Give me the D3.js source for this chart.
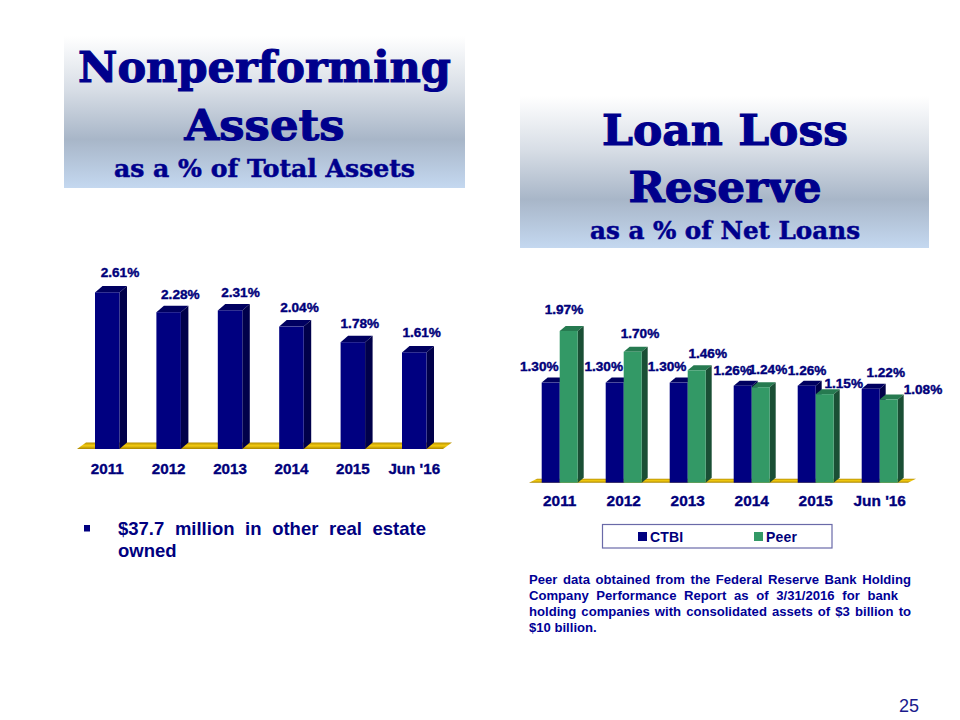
<!DOCTYPE html>
<html><head><meta charset="utf-8">
<script src="https://cdn.jsdelivr.net/npm/d3@7"></script>
<style>html,body{margin:0;padding:0;background:#fff}svg{display:block}</style>
</head><body><svg id="c" width="960" height="720"></svg>
<script>
const categories = ["2011","2012","2013","2014","2015","Jun '16"];
const npaValues = [2.61,2.28,2.31,2.04,1.78,1.61];
const ctbiValues = [1.30,1.30,1.30,1.26,1.26,1.22];
const peerValues = [1.97,1.70,1.46,1.24,1.15,1.08];
const seriesNames = ["CTBI","Peer"];
const leftTitle = ["Nonperforming","Assets","as a % of Total Assets"];
const rightTitle = ["Loan Loss","Reserve","as a % of Net Loans"];
const bulletLines = ["$37.7 million in other real estate","owned"];
const noteLines = ["Peer data obtained from the Federal Reserve Bank Holding","Company Performance Report as of 3/31/2016 for bank","holding companies with consolidated assets of $3 billion to","$10 billion."];
const pageNumber = "25";

const NAVY="#000080", INK="#00007a", SANS="'Liberation Sans',Arial,sans-serif", SERIF="'DejaVu Serif',serif";
const svg=d3.select("#c"), defs=svg.append("defs");
const pal={CTBI:{front:"#000080",side:"#00004a",top:"#000060"},Peer:{front:"#339966",side:"#1a4f35",top:"#267a50"}};

const pg=defs.append("linearGradient").attr("id","panel").attr("x1",0).attr("x2",0).attr("y1",0).attr("y2",1);
[[0,"#ffffff"],[.35,"#d8dee6"],[.68,"#a8b6c8"],[1,"#c4d8f0"]].forEach(s=>pg.append("stop").attr("offset",s[0]).attr("stop-color",s[1]));
const fg=defs.append("linearGradient").attr("id","floor").attr("x1",0).attr("x2",0).attr("y1",0).attr("y2",1);
[[0,"#b89000"],[.5,"#f4cc10"],[1,"#a88400"]].forEach(s=>fg.append("stop").attr("offset",s[0]).attr("stop-color",s[1]));

function panel(x,y,w,h,lines,cx,bases,sizes,widths){
  svg.append("rect").attr("x",x).attr("y",y).attr("width",w).attr("height",h).attr("fill","url(#panel)");
  svg.append("g").selectAll("text").data(lines).join("text")
    .attr("x",cx).attr("y",(d,i)=>bases[i]).attr("text-anchor","middle")
    .attr("font-family",SERIF).attr("font-weight","bold").attr("font-size",(d,i)=>sizes[i])
    .attr("fill","#00008c").attr("stroke","#00008c").attr("stroke-width",(d,i)=>i<2?1.1:.5)
    .attr("textLength",(d,i)=>widths[i]).attr("lengthAdjust","spacingAndGlyphs").text(d=>d);
}
panel(64,36,401,152,leftTitle,264.5,[82,140,177],[43,43,24],[373,160,301]);
panel(520,96,409,152,rightTitle,725,[145,202,239],[43,43,24],[246,193,270]);

function floor(xl,xr,base,dx,dy){
  const p=d3.path();p.moveTo(xl,base);p.lineTo(xl+dx,base-dy);p.lineTo(xr+dx,base-dy);p.lineTo(xr,base);p.closePath();
  svg.append("path").attr("d",p.toString()).attr("fill","url(#floor)");
}
function bar3d(g,x,w,yTop,base,dx,dy,c){
  const top=d3.path();top.moveTo(x,yTop);top.lineTo(x+dx,yTop-dy);top.lineTo(x+w+dx,yTop-dy);top.lineTo(x+w,yTop);top.closePath();
  const side=d3.path();side.moveTo(x+w,yTop);side.lineTo(x+w+dx,yTop-dy);side.lineTo(x+w+dx,base-dy);side.lineTo(x+w,base);side.closePath();
  g.append("path").attr("d",top.toString()).attr("fill",c.top);
  g.append("path").attr("d",side.toString()).attr("fill",c.side);
  g.append("rect").attr("x",x).attr("y",yTop).attr("width",w).attr("height",base-yTop).attr("fill",c.front);
}
function catAxis(x,y,size){
  const g=svg.append("g").attr("transform",`translate(0,${y})`).call(d3.axisBottom(x).tickSize(0).tickPadding(0));
  g.select(".domain").remove();
  g.selectAll("text").attr("font-family",SANS).attr("font-weight","bold").attr("font-size",size).attr("fill",INK).attr("stroke",INK).attr("stroke-width",.35).attr("dy",0).attr("y",0);
}
function label(x,y,v){
  svg.append("text").attr("x",x).attr("y",y).attr("text-anchor","middle").attr("dy",".36em")
   .attr("font-family",SANS).attr("font-weight","bold").attr("font-size",13.6).attr("fill",INK)
   .attr("stroke",INK).attr("stroke-width",.4).text(v.toFixed(2)+"%");
}

// Left chart
{
  const base=449, x=d3.scaleBand().domain(categories).range([95,426.5]).paddingInner(.601);
  const y=d3.scaleLinear().domain([0,3]).range([base,base-180]);
  floor(77,443,base,9,6.5);
  const g=svg.append("g");
  const nudgeX=[12.7,11.7,10.4,8,7,7.4], nudgeY=[-20,-18.5,-18.5,-19.5,-19.5,-20.5];
  categories.forEach((c,i)=>bar3d(g,x(c),x.bandwidth(),y(npaValues[i]),base,7.5,6.5,pal.CTBI));
  categories.forEach((c,i)=>label(x(c)+x.bandwidth()/2+nudgeX[i],y(npaValues[i])+nudgeY[i],npaValues[i]));
  catAxis(x,474,15.2);
}
// Right chart
{
  const base=482.7, x=d3.scaleBand().domain(categories).range([541.7,897.7]).paddingInner(.4375);
  const s=d3.scaleBand().domain(seriesNames).range([0,x.bandwidth()]);
  const y=d3.scaleLinear().domain([0,2]).range([base,base-154]);
  floor(529,908,base,8,4);
  const g=svg.append("g");
  categories.forEach((c,i)=>{
    bar3d(g,x(c)+s("CTBI"),s.bandwidth(),y(ctbiValues[i]),base,6,5,pal.CTBI);
    bar3d(g,x(c)+s("Peer"),s.bandwidth(),y(peerValues[i]),base,6,5,pal.Peer);
  });
  const cx=[-11.4,-11,-11.6,-10,.4,15], cy=[-16.6,-16.6,-16.6,-15.7,-15.7,-16.8];
  const px=[-4.7,7.3,11,7.3,19,34.3], py=[-22,-19,-17,-18,-11,-10.5];
  categories.forEach((c,i)=>{
    label(x(c)+s("CTBI")+s.bandwidth()/2+cx[i],y(ctbiValues[i])+cy[i],ctbiValues[i]);
    label(x(c)+s("Peer")+s.bandwidth()/2+px[i],y(peerValues[i])+py[i],peerValues[i]);
  });
  catAxis(x,506,15.4);
  // Legend
  const lg=svg.append("g");
  lg.append("rect").attr("x",602.5).attr("y",524.5).attr("width",229.5).attr("height",23.5).attr("fill","#fff").attr("stroke","#6a6aa8").attr("stroke-width",1.2);
  seriesNames.forEach((n,i)=>{
    const lx=d3.scaleOrdinal().domain(seriesNames).range([638,754])(n);
    lg.append("rect").attr("x",lx).attr("y",532).attr("width",9).attr("height",9).attr("fill",pal[n].front);
    lg.append("text").attr("x",lx+12).attr("y",541.5).attr("font-family",SANS).attr("font-weight","bold").attr("font-size",14).attr("fill",INK).attr("letter-spacing",.2).text(n);
  });
}
// Justified text helper
function justified(lines,x,widths,bases,size,color){
  lines.forEach((t,i)=>{
    const el=svg.append("text").attr("x",x).attr("y",bases[i]).attr("font-family",SANS).attr("font-weight","bold").attr("font-size",size).attr("fill",color).text(t);
    if(widths[i]){
      const gaps=t.split(" ").length-1, w=el.node().getComputedTextLength();
      el.attr("word-spacing",(widths[i]-w)/gaps);
    }
  });
}
svg.append("rect").attr("x",84).attr("y",525).attr("width",6).attr("height",6.5).attr("fill",NAVY);
justified(bulletLines,118,[308,0],[535,557],18.5,NAVY);
justified(noteLines,529,[382,369,382,0],[584,600,616,632],13.1,"#000096");
svg.append("text").attr("x",919).attr("y",711.5).attr("text-anchor","end").attr("font-family",SANS).attr("font-size",18).attr("fill","#1a1a8c").text(pageNumber);
</script></body></html>
